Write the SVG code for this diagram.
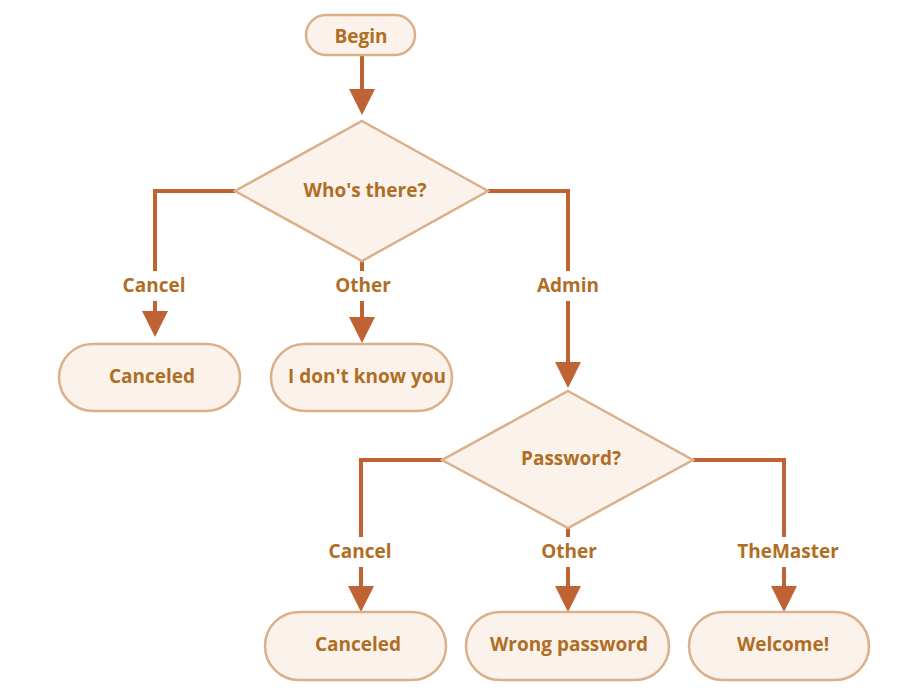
<svg xmlns="http://www.w3.org/2000/svg" width="913" height="700" viewBox="0 0 913 700">
<style>
.node rect, .node polygon { fill: #FBF2EC; stroke: #DBAF88; stroke-width: 2.5; }
text { font-family: "Open Sans", "Noto Sans", "Liberation Sans", sans-serif; font-weight: bold; font-size: 19px; fill: #AF6E24; text-anchor: middle; dominant-baseline: central; }
.conn path { fill: none; stroke: #C06334; stroke-width: 4; }
.conn path.arr { marker-end: url(#arrow); }
</style>
<defs>
<marker id="arrow" markerUnits="userSpaceOnUse" markerWidth="26" markerHeight="26" refX="0" refY="13" orient="auto" viewBox="0 0 26 26">
<path d="M0,0 L26,13 L0,26 Z" fill="#C06334"/>
</marker>
</defs>
<rect width="913" height="700" fill="#ffffff"/>
<g id="connectors" class="conn">
<path class="arr" d="M362,56 V89"/>
<path d="M235,191 H155 V271"/>
<path class="arr" d="M155,301 V311"/>
<path d="M362,261 V271"/>
<path class="arr" d="M362,301 V317"/>
<path d="M488,191 H568 V271"/>
<path class="arr" d="M568,301 V362"/>
<path d="M442,460 H361 V537"/>
<path class="arr" d="M361,567 V586"/>
<path d="M568,528 V537"/>
<path class="arr" d="M568,567 V586"/>
<path d="M693,460 H784 V537"/>
<path class="arr" d="M784,567 V586"/>
<text x="154" y="285">Cancel</text>
<text x="363" y="285">Other</text>
<text x="568" y="285">Admin</text>
<text x="360" y="551">Cancel</text>
<text x="569" y="551">Other</text>
<text x="788" y="551">TheMaster</text>
</g>
<g id="begin" class="node">
<rect x="306" y="15" width="109" height="40" rx="20"/>
<text x="361" y="36">Begin</text>
</g>
<g id="whos-there" class="node">
<polygon points="362,121 488,191 362,261 235,191"/>
<text x="365" y="190">Who's there?</text>
</g>
<g id="canceled-1" class="node">
<rect x="59" y="344" width="181" height="67" rx="33.5"/>
<text x="152" y="376">Canceled</text>
</g>
<g id="dont-know" class="node">
<rect x="271" y="344" width="181" height="67" rx="33.5"/>
<text x="367" y="376">I don't know you</text>
</g>
<g id="password" class="node">
<polygon points="568,391 693,460 568,528 442,460"/>
<text x="571" y="458">Password?</text>
</g>
<g id="canceled-2" class="node">
<rect x="265" y="612" width="181" height="68" rx="34"/>
<text x="358" y="644">Canceled</text>
</g>
<g id="wrong-password" class="node">
<rect x="466" y="612" width="203" height="68" rx="34"/>
<text x="569" y="644">Wrong password</text>
</g>
<g id="welcome" class="node">
<rect x="689" y="612" width="180" height="68" rx="34"/>
<text x="783" y="644">Welcome!</text>
</g>
</svg>
